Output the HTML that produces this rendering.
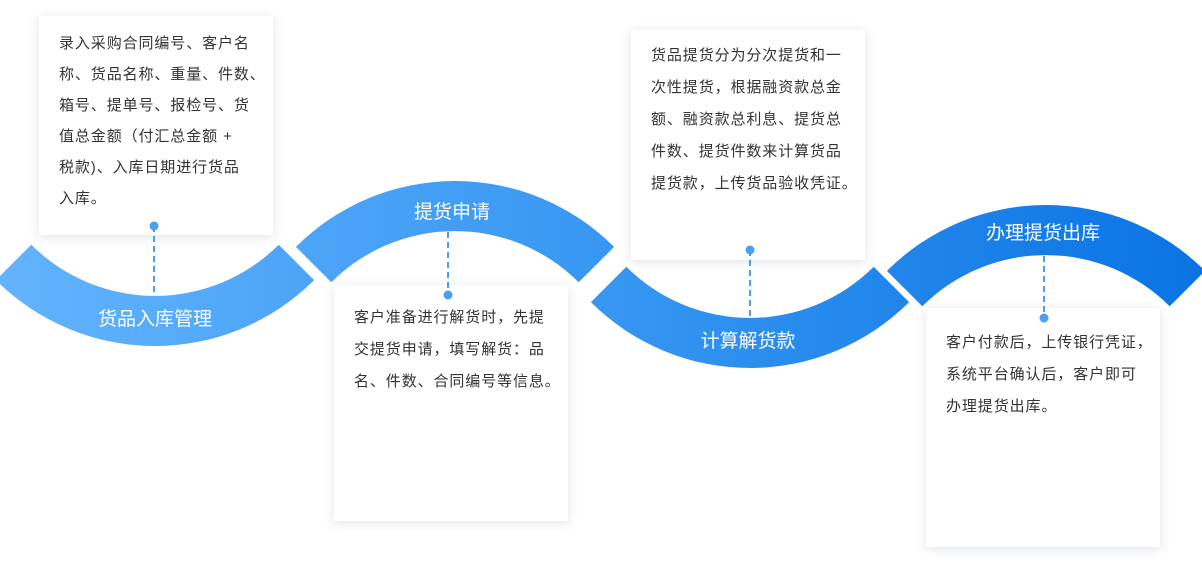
<!DOCTYPE html>
<html><head><meta charset="utf-8"><style>
body{margin:0;width:1202px;height:562px;background:#fff;position:relative;overflow:hidden;font-family:"Liberation Sans","Noto Sans CJK SC",sans-serif}
.box{position:absolute;background:#fff;box-shadow:0 2px 10px rgba(60,80,120,.16);width:234px}
.box div{position:absolute;left:20px;font-size:15px;letter-spacing:0.9px;color:#333;white-space:nowrap;line-height:20px}
svg{position:absolute;left:0;top:0}
</style></head><body>
<div class="box" style="left:39px;top:16px;height:219px">
<div style="top:18px">录入采购合同编号、客户名</div>
<div style="top:49px">称、货品名称、重量、件数、</div>
<div style="top:80px">箱号、提单号、报检号、货</div>
<div style="top:111px">值总金额（付汇总金额 +</div>
<div style="top:142px">税款)、入库日期进行货品</div>
<div style="top:173px">入库。</div>
</div>
<div class="box" style="left:334px;top:285px;height:236px">
<div style="top:23px">客户准备进行解货时，先提</div>
<div style="top:55px">交提货申请，填写解货：品</div>
<div style="top:87px">名、件数、合同编号等信息。</div>
</div>
<div class="box" style="left:631px;top:30px;height:230px">
<div style="top:16px">货品提货分为分次提货和一</div>
<div style="top:48px">次性提货，根据融资款总金</div>
<div style="top:80px">额、融资款总利息、提货总</div>
<div style="top:112px">件数、提货件数来计算货品</div>
<div style="top:144px">提货款，上传货品验收凭证。</div>
</div>
<div class="box" style="left:926px;top:308px;height:239px">
<div style="top:25px">客户付款后，上传银行凭证，</div>
<div style="top:57px">系统平台确认后，客户即可</div>
<div style="top:89px">办理提货出库。</div>
</div>
<svg width="1202" height="562" viewBox="0 0 1202 562">
<defs><linearGradient id="g" gradientUnits="userSpaceOnUse" x1="0" y1="0" x2="1202" y2="0">
<stop offset="0" stop-color="#63b3fd"/><stop offset="0.5" stop-color="#3797f2"/><stop offset="1" stop-color="#0a74e4"/></linearGradient></defs>
<g fill="url(#g)">
<path d="M31.3,244.7 A175,175 0 0 0 278.7,244.7 L314.1,280.1 A225,225 0 0 1 -4.1,280.1 Z"/>
<path d="M331.3,282.3 A175,175 0 0 1 578.7,282.3 L614.1,246.9 A225,225 0 0 0 295.9,246.9 Z"/>
<path d="M626.3,266.7 A175,175 0 0 0 873.7,266.7 L909.1,302.1 A225,225 0 0 1 590.9,302.1 Z"/>
<path d="M922.3,306.3 A175,175 0 0 1 1169.7,306.3 L1205.1,270.9 A225,225 0 0 0 886.9,270.9 Z"/>
</g>
<g fill="#fff" font-size="19" text-anchor="middle" font-family="Liberation Sans, Noto Sans CJK SC, sans-serif">
<text x="155" y="325">货品入库管理</text>
<text x="452" y="218">提货申请</text>
<text x="748" y="347">计算解货款</text>
<text x="1043" y="239">办理提货出库</text>
</g>
<g stroke="#4a9ff5" stroke-width="2" stroke-dasharray="6,4">
<line x1="154" y1="226" x2="154" y2="296"/>
<line x1="448" y1="232" x2="448" y2="295"/>
<line x1="750" y1="250" x2="750" y2="318"/>
<line x1="1044" y1="256" x2="1044" y2="318"/>
</g>
<g fill="#4a9ff5">
<circle cx="154" cy="226" r="4.5"/><circle cx="448" cy="295" r="4.5"/>
<circle cx="750" cy="250" r="4.5"/><circle cx="1044" cy="318" r="4.5"/>
</g>
</svg>
</body></html>
